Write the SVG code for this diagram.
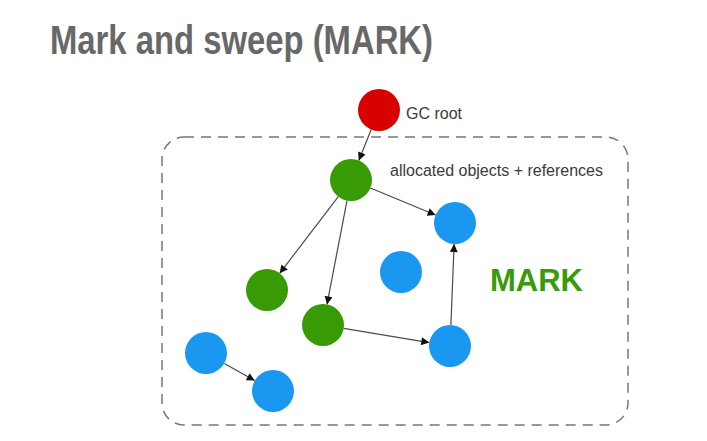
<svg xmlns="http://www.w3.org/2000/svg" width="707" height="441" viewBox="0 0 707 441">
<style>
.edge{stroke:#4a4a4a;stroke-width:1.2;fill:none;marker-end:url(#ah)}
.red{fill:#d90000}
.green{fill:#389a05}
.blue{fill:#1a97f0}
.lbl{font-family:"Liberation Sans",Arial,sans-serif;font-size:16px;fill:#3a3a3a}
</style>
<defs>
<marker id="ah" viewBox="0 0 10 10" refX="10" refY="5" markerWidth="9" markerHeight="8" markerUnits="userSpaceOnUse" orient="auto">
<path d="M0,0 L10,5 L0,10 z" fill="#111"/>
</marker>
</defs>
<rect width="707" height="441" fill="#ffffff"/>
<text x="50" y="54" font-family="Liberation Sans,Arial,sans-serif" font-weight="bold" font-size="40" fill="#686868" textLength="383" lengthAdjust="spacingAndGlyphs">Mark and sweep (MARK)</text>
<rect id="heap" x="162" y="137" width="466" height="288" rx="22" ry="22" fill="none" stroke="#777" stroke-width="1.5" stroke-dasharray="10,7"/>
<text x="490" y="291" font-family="Liberation Sans,Arial,sans-serif" font-weight="bold" font-size="31" fill="#3a9a0a">MARK</text>
<text class="lbl" x="406" y="119">GC root</text>
<text class="lbl" x="390" y="176">allocated objects + references</text>
<g id="connectors">
<line class="edge" x1="371.2" y1="129.5" x2="358.8" y2="160.5"/>
<line class="edge" x1="370.4" y1="188.0" x2="435.6" y2="215.0"/>
<line class="edge" x1="338.3" y1="196.7" x2="279.7" y2="273.3"/>
<line class="edge" x1="347.0" y1="200.6" x2="327.0" y2="304.4"/>
<line class="edge" x1="343.7" y1="328.4" x2="429.3" y2="342.6"/>
<line class="edge" x1="450.9" y1="325.0" x2="454.1" y2="244.0"/>
<line class="edge" x1="224.3" y1="363.4" x2="254.7" y2="380.6"/>
</g>
<g id="root"><circle class="red" cx="379" cy="110" r="21"/></g>
<g id="g1"><circle class="green" cx="351" cy="180" r="21"/></g>
<g id="b1"><circle class="blue" cx="455" cy="223" r="21"/></g>
<g id="b2"><circle class="blue" cx="401" cy="272" r="21"/></g>
<g id="g2"><circle class="green" cx="267" cy="290" r="21"/></g>
<g id="g3"><circle class="green" cx="323" cy="325" r="21"/></g>
<g id="b3"><circle class="blue" cx="450" cy="346" r="21"/></g>
<g id="b4"><circle class="blue" cx="206" cy="353" r="21"/></g>
<g id="b5"><circle class="blue" cx="273" cy="391" r="21"/></g>
</svg>
